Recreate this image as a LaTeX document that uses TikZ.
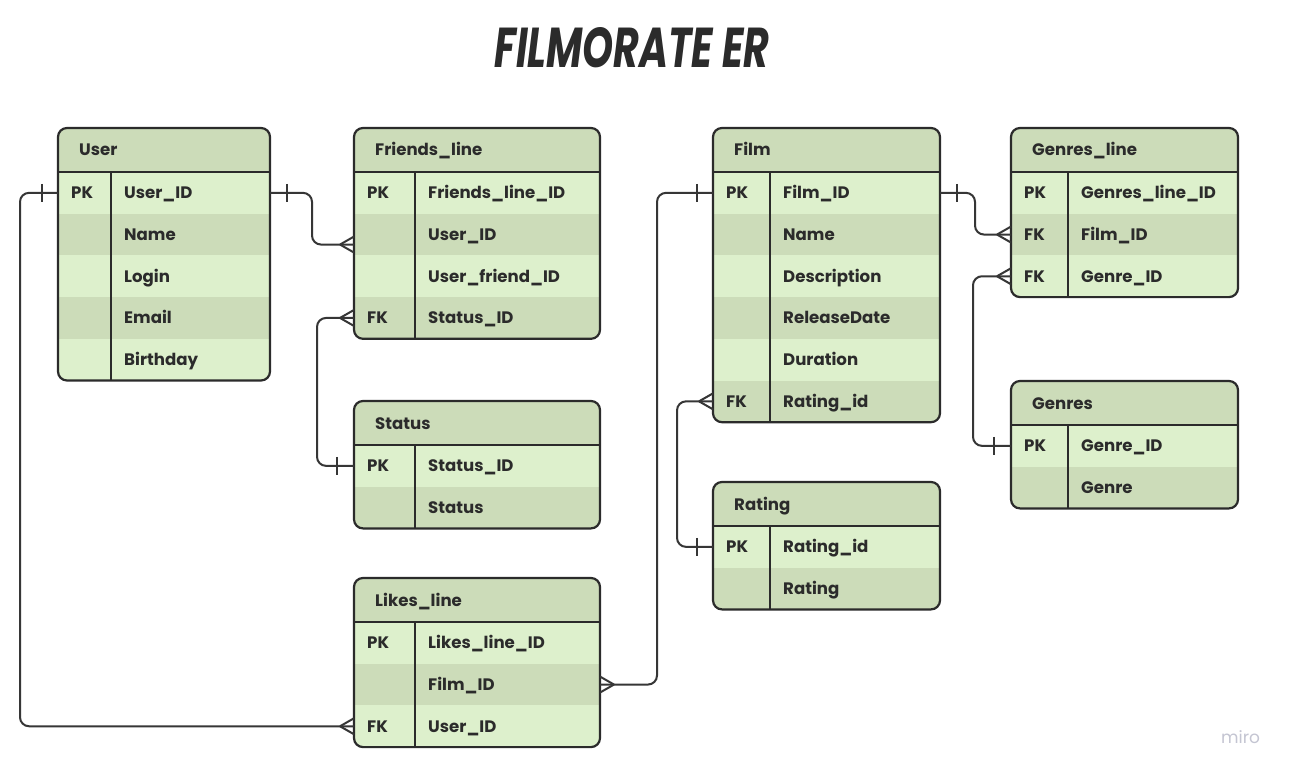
\documentclass[tikz,border=0pt]{standalone}
\usepackage{fontspec}
\usepackage{graphicx}
\setmainfont{Poppins}
\usetikzlibrary{calc}
\definecolor{hdr}{HTML}{CCDCB9}
\definecolor{lite}{HTML}{DDF0CC}
\definecolor{ink}{HTML}{2B2B2B}
\definecolor{wire}{HTML}{363636}
\definecolor{mirogray}{HTML}{C4C5D2}
\tikzset{
  rowbox/.style={draw=none, inner sep=0pt, outer sep=0pt, minimum height=41.7pt, anchor=north west},
  border/.style={draw=ink, line width=2.2pt},
  txt/.style={font=\fontsize{16.6}{18}\selectfont\bfseries, text=ink, inner sep=0pt, anchor=base west},
  conn/.style={draw=wire, line width=2pt, rounded corners=9pt},
  erend/.style={draw=wire, line width=2pt},
}
% #1 id, #2 x, #3 y, #4 width, #5 divider offset, #6 rows, #7 title, #8 rows key/field
\newcommand\ertable[8]{%
  \pgfmathsetmacro\tabh{44+#6*41.7}%
  \begin{scope}
    \clip[rounded corners=9pt] (#2,#3) rectangle ++(#4,\tabh);
    \fill[hdr] (#2,#3) rectangle ++(#4,44);
    \foreach \k/\f [count=\i] in {#8} {
      \pgfmathsetmacro\rt{#3+44+(\i-1)*41.7}
      \pgfmathsetmacro\rc{\rt+20.85+6}
      \ifodd\i\def\rowcol{lite}\else\def\rowcol{hdr}\fi
      \node[rowbox, fill=\rowcol, minimum width=#4pt] (#1-\i) at (#2,\rt) {};
      \node[txt] (#1-k\i) at (#2+13,\rc) {\k};
      \node[txt] (#1-f\i) at (#2+#5+13,\rc) {\f};
    }
  \end{scope}
  \draw[border, rounded corners=9pt] (#2,#3) rectangle ++(#4,\tabh);
  \draw[border] (#2,#3+44) -- ++(#4,0);
  \draw[border] (#2+#5,#3+44) -- (#2+#5,#3+\tabh);
  \node[txt] (#1-title) at (#2+21,#3+22+6) {#7};
}
\begin{document}
\begin{tikzpicture}[x=1pt,y=-1pt]
\useasboundingbox (0,0) rectangle (1293,773);
\fill[white] (0,0) rectangle (1293,773);

\node[anchor=base, inner sep=0pt, text=ink] (title) at (632,68)
  {\resizebox{275pt}{40pt}{\bfseries\itshape FILMORATE ER}};

\ertable{user}{58}{128}{212}{53}{5}{User}
  {PK/User\_ID, /Name, /Login, /Email, /Birthday}
\ertable{fl}{354}{128}{246}{61}{4}{Friends\_line}
  {PK/Friends\_line\_ID, /User\_ID, /User\_friend\_ID, FK/Status\_ID}
\ertable{status}{354}{401}{246}{61}{2}{Status}
  {PK/Status\_ID, /Status}
\ertable{likes}{354}{578}{246}{61}{3}{Likes\_line}
  {PK/Likes\_line\_ID, /Film\_ID, FK/User\_ID}
\ertable{film}{713}{128}{227}{57}{6}{Film}
  {PK/Film\_ID, /Name, /Description, /ReleaseDate, /Duration, FK/Rating\_id}
\ertable{rating}{713}{482}{227}{57}{2}{Rating}
  {PK/Rating\_id, /Rating}
\ertable{gl}{1011}{128}{227}{57}{3}{Genres\_line}
  {PK/Genres\_line\_ID, FK/Film\_ID, FK/Genre\_ID}
\ertable{genres}{1011}{381}{227}{57}{2}{Genres}
  {PK/Genre\_ID, /Genre}

% connectors
\draw[conn] (user-1.west) -- ++(-38,0) |- (likes-3.west);
\draw[conn] (user-1.east) -- ++(42,0) |- ([yshift=-10pt]fl-2.west);
\draw[conn] (fl-4.west) -- ++(-37,0) |- (status-1.west);
\draw[conn] (likes-2.east) -- ++(57,0) |- (film-1.west);
\draw[conn] (film-6.west) -- ++(-36,0) |- (rating-1.west);
\draw[conn] (film-1.east) -- ++(35,0) |- (gl-2.west);
\draw[conn] (gl-3.west) -- ++(-38,0) |- (genres-1.west);

% one-ends (bars)
\draw[erend] ([xshift=-16pt]user-1.west) ++(0,-9) -- ++(0,18);
\draw[erend] ([xshift=17pt]user-1.east) ++(0,-9) -- ++(0,18);
\draw[erend] ([xshift=-17pt]status-1.west) ++(0,-9) -- ++(0,18);
\draw[erend] ([xshift=-16pt]film-1.west) ++(0,-9) -- ++(0,18);
\draw[erend] ([xshift=17pt]film-1.east) ++(0,-9) -- ++(0,18);
\draw[erend] ([xshift=-16pt]rating-1.west) ++(0,-9) -- ++(0,18);
\draw[erend] ([xshift=-17pt]genres-1.west) ++(0,-9) -- ++(0,18);

% many-ends (crow's feet)
\draw[erend] ([shift={(-14pt,-10pt)}]fl-2.west) -- ++(14,-8);
\draw[erend] ([shift={(-14pt,-10pt)}]fl-2.west) -- ++(14,8);
\draw[erend] ([xshift=-14pt]fl-4.west) -- ++(14,-8);
\draw[erend] ([xshift=-14pt]fl-4.west) -- ++(14,8);
\draw[erend] ([xshift=-14pt]likes-3.west) -- ++(14,-8);
\draw[erend] ([xshift=-14pt]likes-3.west) -- ++(14,8);
\draw[erend] ([xshift=14pt]likes-2.east) -- ++(-14,-8);
\draw[erend] ([xshift=14pt]likes-2.east) -- ++(-14,8);
\draw[erend] ([xshift=-14pt]film-6.west) -- ++(14,-8);
\draw[erend] ([xshift=-14pt]film-6.west) -- ++(14,8);
\draw[erend] ([xshift=-14pt]gl-2.west) -- ++(14,-8);
\draw[erend] ([xshift=-14pt]gl-2.west) -- ++(14,8);
\draw[erend] ([xshift=-14pt]gl-3.west) -- ++(14,-8);
\draw[erend] ([xshift=-14pt]gl-3.west) -- ++(14,8);

\node[anchor=base west, inner sep=0pt, text=mirogray, font=\fontsize{17}{19}\selectfont] (miro) at (1221,743) {miro};
\end{tikzpicture}
\end{document}
